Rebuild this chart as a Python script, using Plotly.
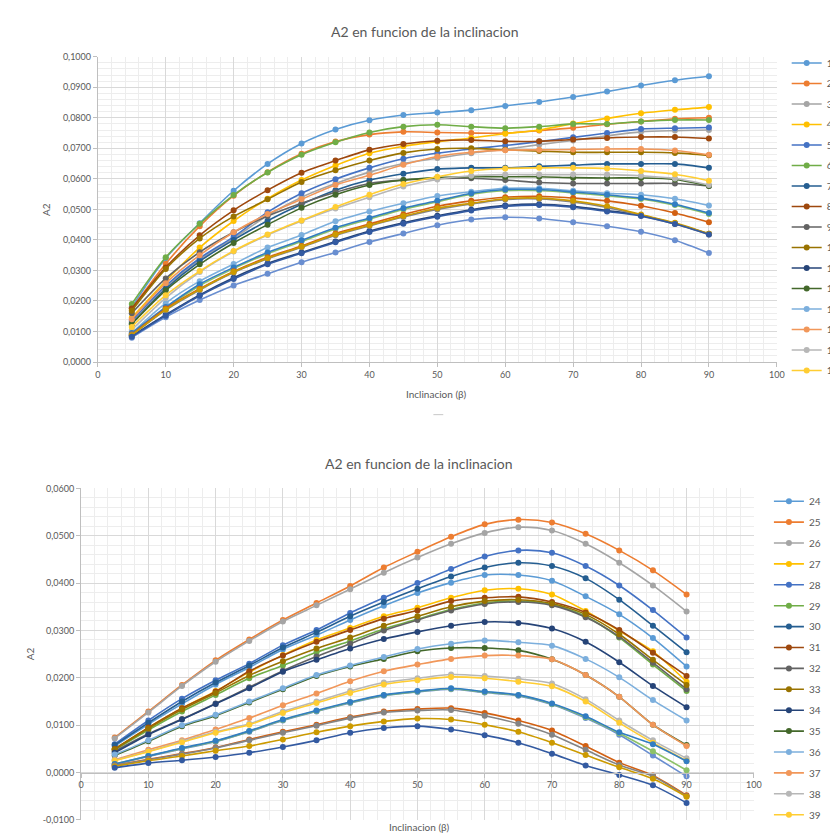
import plotly.graph_objects as go

# ---------------- data ----------------
INCLINACION = [5, 10, 15, 20, 25, 30, 35, 40, 45, 50, 55, 60, 65, 70, 75, 80, 85, 90]

# top chart: series 1..23
S01 = [0.0180, 0.0340, 0.0455, 0.0561, 0.0649, 0.0716, 0.0762, 0.0792, 0.0809, 0.0817, 0.0825, 0.0839, 0.0852, 0.0868, 0.0886, 0.0906, 0.0923, 0.0936]
S02 = [0.0175, 0.0322, 0.0445, 0.0545, 0.0622, 0.0682, 0.0722, 0.0745, 0.0754, 0.0752, 0.0750, 0.0750, 0.0758, 0.0767, 0.0779, 0.0788, 0.0797, 0.0800]
S03 = [0.0130, 0.0245, 0.0335, 0.0405, 0.0480, 0.0540, 0.0585, 0.0622, 0.0650, 0.0668, 0.0684, 0.0697, 0.0712, 0.0726, 0.0741, 0.0754, 0.0758, 0.0760]
S04 = [0.0145, 0.0265, 0.0375, 0.0462, 0.0535, 0.0596, 0.0644, 0.0684, 0.0707, 0.0722, 0.0734, 0.0748, 0.0760, 0.0781, 0.0798, 0.0815, 0.0826, 0.0835]
S05 = [0.0135, 0.0250, 0.0340, 0.0410, 0.0491, 0.0553, 0.0599, 0.0636, 0.0666, 0.0684, 0.0698, 0.0709, 0.0722, 0.0736, 0.0750, 0.0763, 0.0766, 0.0768]
S06 = [0.0190, 0.0343, 0.0453, 0.0547, 0.0621, 0.0679, 0.0720, 0.0752, 0.0771, 0.0777, 0.0771, 0.0766, 0.0771, 0.0780, 0.0780, 0.0788, 0.0793, 0.0793]
S07 = [0.0125, 0.0240, 0.0330, 0.0400, 0.0463, 0.0517, 0.0563, 0.0596, 0.0617, 0.0632, 0.0636, 0.0636, 0.0641, 0.0645, 0.0649, 0.0649, 0.0649, 0.0636]
S08 = [0.0175, 0.0310, 0.0415, 0.0497, 0.0563, 0.0620, 0.0660, 0.0695, 0.0714, 0.0725, 0.0727, 0.0723, 0.0723, 0.0729, 0.0734, 0.0737, 0.0737, 0.0732]
S09 = [0.0160, 0.0274, 0.0360, 0.0425, 0.0478, 0.0520, 0.0556, 0.0585, 0.0596, 0.0601, 0.0602, 0.0596, 0.0588, 0.0585, 0.0585, 0.0585, 0.0585, 0.0577]
S10 = [0.0168, 0.0305, 0.0405, 0.0477, 0.0533, 0.0590, 0.0628, 0.0660, 0.0685, 0.0698, 0.0700, 0.0695, 0.0691, 0.0687, 0.0687, 0.0687, 0.0685, 0.0677]
S11 = [0.0085, 0.0155, 0.0220, 0.0276, 0.0323, 0.0359, 0.0395, 0.0429, 0.0456, 0.0479, 0.0499, 0.0513, 0.0517, 0.0510, 0.0496, 0.0481, 0.0454, 0.0420]
S12 = [0.0125, 0.0235, 0.0320, 0.0390, 0.0450, 0.0505, 0.0548, 0.0580, 0.0596, 0.0604, 0.0607, 0.0607, 0.0607, 0.0604, 0.0603, 0.0603, 0.0598, 0.0577]
S13 = [0.0095, 0.0193, 0.0265, 0.0321, 0.0375, 0.0416, 0.0461, 0.0493, 0.0520, 0.0544, 0.0558, 0.0569, 0.0569, 0.0561, 0.0553, 0.0548, 0.0535, 0.0513]
S14 = [0.0140, 0.0258, 0.0350, 0.0425, 0.0485, 0.0533, 0.0580, 0.0612, 0.0646, 0.0673, 0.0687, 0.0694, 0.0695, 0.0696, 0.0698, 0.0698, 0.0693, 0.0679]
S15 = [0.0105, 0.0210, 0.0295, 0.0362, 0.0416, 0.0462, 0.0503, 0.0540, 0.0575, 0.0598, 0.0610, 0.0614, 0.0614, 0.0614, 0.0614, 0.0610, 0.0601, 0.0580]
S16 = [0.0115, 0.0219, 0.0298, 0.0364, 0.0418, 0.0464, 0.0508, 0.0548, 0.0583, 0.0607, 0.0626, 0.0634, 0.0636, 0.0636, 0.0634, 0.0626, 0.0615, 0.0594]
S17 = [0.0080, 0.0147, 0.0203, 0.0251, 0.0289, 0.0327, 0.0359, 0.0393, 0.0421, 0.0448, 0.0467, 0.0474, 0.0470, 0.0458, 0.0445, 0.0427, 0.0399, 0.0357]
S18 = [0.0092, 0.0177, 0.0250, 0.0306, 0.0355, 0.0395, 0.0436, 0.0468, 0.0500, 0.0525, 0.0550, 0.0562, 0.0562, 0.0554, 0.0545, 0.0534, 0.0514, 0.0485]
S19 = [0.0095, 0.0180, 0.0255, 0.0310, 0.0359, 0.0399, 0.0440, 0.0472, 0.0504, 0.0528, 0.0553, 0.0565, 0.0565, 0.0557, 0.0548, 0.0537, 0.0517, 0.0488]
S20 = [0.0090, 0.0175, 0.0240, 0.0297, 0.0343, 0.0380, 0.0421, 0.0452, 0.0483, 0.0510, 0.0528, 0.0540, 0.0543, 0.0537, 0.0528, 0.0512, 0.0488, 0.0458]
S21 = [0.0088, 0.0170, 0.0236, 0.0293, 0.0338, 0.0376, 0.0415, 0.0446, 0.0475, 0.0500, 0.0518, 0.0532, 0.0534, 0.0524, 0.0506, 0.0480, 0.0452, 0.0418]
S22 = [0.0088, 0.0172, 0.0238, 0.0295, 0.0340, 0.0378, 0.0418, 0.0448, 0.0478, 0.0504, 0.0520, 0.0535, 0.0537, 0.0528, 0.0510, 0.0483, 0.0456, 0.0420]
S23 = [0.0083, 0.0152, 0.0217, 0.0272, 0.0320, 0.0356, 0.0392, 0.0426, 0.0453, 0.0476, 0.0496, 0.0510, 0.0514, 0.0507, 0.0493, 0.0478, 0.0452, 0.0418]

# bottom chart: series 24..46
S24 = [0.0056, 0.0102, 0.0145, 0.0186, 0.0222, 0.0260, 0.0290, 0.0322, 0.0352, 0.0379, 0.0401, 0.0417, 0.0417, 0.0405, 0.0372, 0.0334, 0.0284, 0.0224]
S25 = [0.0074, 0.0129, 0.0185, 0.0237, 0.0281, 0.0322, 0.0358, 0.0394, 0.0433, 0.0466, 0.0498, 0.0524, 0.0534, 0.0528, 0.0504, 0.0469, 0.0427, 0.0376]
S26 = [0.0072, 0.0127, 0.0183, 0.0234, 0.0278, 0.0319, 0.0353, 0.0387, 0.0422, 0.0454, 0.0483, 0.0506, 0.0518, 0.0511, 0.0483, 0.0443, 0.0395, 0.0340]
S27 = [0.0050, 0.0095, 0.0136, 0.0172, 0.0212, 0.0248, 0.0280, 0.0305, 0.0330, 0.0348, 0.0369, 0.0385, 0.0388, 0.0376, 0.0341, 0.0299, 0.0256, 0.0192]
S28 = [0.0060, 0.0110, 0.0156, 0.0195, 0.0230, 0.0269, 0.0301, 0.0337, 0.0369, 0.0400, 0.0430, 0.0456, 0.0469, 0.0464, 0.0436, 0.0395, 0.0343, 0.0285]
S29 = [0.0048, 0.0090, 0.0129, 0.0164, 0.0199, 0.0226, 0.0254, 0.0278, 0.0303, 0.0324, 0.0344, 0.0358, 0.0362, 0.0355, 0.0330, 0.0285, 0.0228, 0.0172]
S30 = [0.0058, 0.0105, 0.0150, 0.0190, 0.0226, 0.0264, 0.0296, 0.0330, 0.0360, 0.0388, 0.0414, 0.0433, 0.0443, 0.0436, 0.0410, 0.0365, 0.0310, 0.0254]
S31 = [0.0050, 0.0095, 0.0136, 0.0171, 0.0214, 0.0247, 0.0276, 0.0301, 0.0325, 0.0342, 0.0362, 0.0369, 0.0371, 0.0360, 0.0338, 0.0301, 0.0253, 0.0204]
S32 = [0.0045, 0.0082, 0.0113, 0.0146, 0.0180, 0.0215, 0.0245, 0.0272, 0.0300, 0.0322, 0.0342, 0.0356, 0.0360, 0.0353, 0.0328, 0.0287, 0.0232, 0.0176]
S33 = [0.0049, 0.0093, 0.0133, 0.0168, 0.0205, 0.0235, 0.0262, 0.0285, 0.0310, 0.0330, 0.0350, 0.0362, 0.0365, 0.0357, 0.0334, 0.0292, 0.0238, 0.0185]
S34 = [0.0042, 0.0080, 0.0112, 0.0145, 0.0178, 0.0213, 0.0238, 0.0262, 0.0282, 0.0297, 0.0310, 0.0318, 0.0316, 0.0304, 0.0276, 0.0233, 0.0183, 0.0138]
S35 = [0.0036, 0.0066, 0.0098, 0.0120, 0.0148, 0.0176, 0.0204, 0.0224, 0.0240, 0.0256, 0.0263, 0.0263, 0.0258, 0.0239, 0.0206, 0.0160, 0.0101, 0.0058]
S36 = [0.0038, 0.0068, 0.0100, 0.0122, 0.0150, 0.0178, 0.0206, 0.0226, 0.0244, 0.0261, 0.0272, 0.0279, 0.0275, 0.0268, 0.0240, 0.0201, 0.0153, 0.0110]
S37 = [0.0027, 0.0048, 0.0068, 0.0091, 0.0115, 0.0142, 0.0167, 0.0193, 0.0214, 0.0228, 0.0240, 0.0247, 0.0247, 0.0239, 0.0206, 0.0160, 0.0101, 0.0056]
S38 = [0.0026, 0.0045, 0.0066, 0.0086, 0.0103, 0.0129, 0.0150, 0.0172, 0.0190, 0.0199, 0.0207, 0.0204, 0.0198, 0.0188, 0.0155, 0.0110, 0.0068, 0.0030]
S39 = [0.0025, 0.0044, 0.0064, 0.0084, 0.0101, 0.0126, 0.0147, 0.0168, 0.0186, 0.0195, 0.0202, 0.0199, 0.0192, 0.0182, 0.0150, 0.0105, 0.0063, 0.0025]
S40 = [0.0017, 0.0034, 0.0050, 0.0065, 0.0086, 0.0110, 0.0129, 0.0147, 0.0162, 0.0170, 0.0176, 0.0169, 0.0162, 0.0144, 0.0115, 0.0080, 0.0036, -0.0008]
S41 = [0.0018, 0.0035, 0.0051, 0.0066, 0.0087, 0.0111, 0.0130, 0.0148, 0.0163, 0.0171, 0.0177, 0.0170, 0.0163, 0.0145, 0.0117, 0.0083, 0.0045, 0.0005]
S42 = [0.0018, 0.0035, 0.0052, 0.0067, 0.0088, 0.0112, 0.0131, 0.0149, 0.0164, 0.0172, 0.0178, 0.0171, 0.0164, 0.0146, 0.0119, 0.0085, 0.0060, 0.0024]
S43 = [0.0015, 0.0028, 0.0040, 0.0053, 0.0070, 0.0086, 0.0101, 0.0117, 0.0129, 0.0134, 0.0136, 0.0126, 0.0110, 0.0089, 0.0056, 0.0021, -0.0006, -0.0048]
S44 = [0.0015, 0.0027, 0.0039, 0.0052, 0.0068, 0.0084, 0.0099, 0.0115, 0.0127, 0.0131, 0.0132, 0.0120, 0.0103, 0.0080, 0.0048, 0.0016, -0.0008, -0.0050]
S45 = [0.0013, 0.0025, 0.0035, 0.0046, 0.0056, 0.0070, 0.0085, 0.0098, 0.0108, 0.0114, 0.0112, 0.0101, 0.0086, 0.0063, 0.0037, 0.0011, -0.0013, -0.0051]
S46 = [0.0010, 0.0020, 0.0026, 0.0033, 0.0042, 0.0054, 0.0068, 0.0084, 0.0094, 0.0098, 0.0091, 0.0079, 0.0063, 0.0040, 0.0015, -0.0005, -0.0027, -0.0064]

TOP_NAMES = ["1", "2", "3", "4", "5", "6", "7", "8", "9", "10", "11", "12",
             "13", "14", "15", "16", "17", "18", "19", "20", "21", "22", "23"]
BOTTOM_NAMES = ["24", "25", "26", "27", "28", "29", "30", "31", "32", "33", "34", "35",
                "36", "37", "38", "39", "40", "41", "42", "43", "44", "45", "46"]

TOP_TICKS_Y = [0.0, 0.01, 0.02, 0.03, 0.04, 0.05, 0.06, 0.07, 0.08, 0.09, 0.10]
TOP_TICKTEXT_Y = ["0,0000", "0,0100", "0,0200", "0,0300", "0,0400", "0,0500",
                  "0,0600", "0,0700", "0,0800", "0,0900", "0,1000"]
BOT_TICKS_Y = [-0.01, 0.0, 0.01, 0.02, 0.03, 0.04, 0.05, 0.06]
BOT_TICKTEXT_Y = ["-0,0100", "0,0000", "0,0100", "0,0200", "0,0300", "0,0400", "0,0500", "0,0600"]

TITLE = "A2 en funcion de la inclinacion"
XTITLE = "Inclinacion (β)"
YTITLE = "A2"

# ---------------- style ----------------
PALETTE = ["#5B9BD5", "#ED7D31", "#A5A5A5", "#FFC000", "#4472C4", "#70AD47",
           "#255E91", "#9E480E", "#636363", "#997300", "#264478", "#43682B",
           "#7CAFDD", "#F1975A", "#B7B7B7", "#FFCD33", "#698ED0", "#8CC168",
           "#327DC2", "#D26012", "#848484", "#CC9A00", "#335AA1"]

TOP_SERIES = [S01, S02, S03, S04, S05, S06, S07, S08, S09, S10, S11, S12,
              S13, S14, S15, S16, S17, S18, S19, S20, S21, S22, S23]
BOTTOM_SERIES = [S24, S25, S26, S27, S28, S29, S30, S31, S32, S33, S34, S35,
                 S36, S37, S38, S39, S40, S41, S42, S43, S44, S45, S46]

W, H = 838, 835
FONT = "Lato, 'Open Sans', sans-serif"
TXT = "#595959"
GRID = "#D9D9D9"
MINOR = "#EDEDED"
AXL = "#BFBFBF"


def px(xp):
    return xp / W


def py(yp):
    return 1 - yp / H


fig = go.Figure()

for i, ys in enumerate(TOP_SERIES):
    c = PALETTE[i % len(PALETTE)]
    fig.add_trace(go.Scatter(
        x=INCLINACION, y=ys, name=TOP_NAMES[i], mode="lines+markers",
        line=dict(color=c, width=1.6, shape="spline", smoothing=0.8),
        marker=dict(color=c, size=6),
        xaxis="x", yaxis="y", legend="legend", legendgroup="t%d" % i,
        showlegend=i < 16))

for i, ys in enumerate(BOTTOM_SERIES):
    c = PALETTE[i % len(PALETTE)]
    fig.add_trace(go.Scatter(
        x=INCLINACION, y=ys, name=BOTTOM_NAMES[i], mode="lines+markers",
        line=dict(color=c, width=1.6, shape="spline", smoothing=0.8),
        marker=dict(color=c, size=6),
        xaxis="x2", yaxis="y2", legend="legend2", legendgroup="b%d" % i,
        showlegend=i < 16))

axis_common = dict(
    showgrid=True, gridcolor=GRID, gridwidth=1, zeroline=False,
    showline=True, linecolor=AXL, linewidth=1,
    ticks="outside", ticklen=4, tickcolor=AXL,
    tickfont=dict(family=FONT, size=9, color=TXT),
)

fig.update_layout(
    width=W, height=H, margin=dict(l=0, r=0, t=0, b=0),
    paper_bgcolor="white", plot_bgcolor="white",
    font=dict(family=FONT, color=TXT),
    separators=", ",
    xaxis=dict(domain=[px(88), px(776)], range=[0, 100], tick0=0, dtick=10,
               anchor="y",
               minor=dict(dtick=2, showgrid=True, gridcolor=MINOR, ticks=""),
               **axis_common),
    yaxis=dict(domain=[py(352.7), py(43.3)], range=[0, 0.1],
               tickvals=TOP_TICKS_Y, ticktext=TOP_TICKTEXT_Y, anchor="x",
               minor=dict(dtick=0.002, showgrid=True, gridcolor=MINOR, ticks=""),
               **axis_common),
    xaxis2=dict(domain=[px(71), px(752.7)], range=[0, 100], tick0=0, dtick=10,
                anchor="free", position=py(768.7),
                minor=dict(dtick=2, showgrid=True, gridcolor=MINOR, ticks=""),
                **axis_common),
    yaxis2=dict(domain=[py(816.7), py(480.7)], range=[-0.01, 0.06],
                tickvals=BOT_TICKS_Y, ticktext=BOT_TICKTEXT_Y, anchor="x2",
                minor=dict(dtick=0.002, showgrid=True, gridcolor=MINOR, ticks=""),
                **axis_common),
    legend=dict(x=px(786), y=py(35), xanchor="left", yanchor="top",
                font=dict(family=FONT, size=10, color=TXT),
                tracegroupgap=1.5, bgcolor="rgba(0,0,0,0)", itemwidth=30),
    legend2=dict(x=px(768), y=py(479), xanchor="left", yanchor="top",
                 font=dict(family=FONT, size=10, color=TXT),
                 tracegroupgap=1.9, bgcolor="rgba(0,0,0,0)", itemwidth=30),
    showlegend=True,
)

ann = [
    dict(x=px(420), y=py(18), text=TITLE, font=dict(size=14)),
    dict(x=px(413), y=py(456), text=TITLE, font=dict(size=14)),
    dict(x=px(431), y=py(385), text=XTITLE, font=dict(size=10)),
    dict(x=px(414), y=py(824), text=XTITLE, font=dict(size=10)),
    dict(x=px(36), y=py(198), text=YTITLE, font=dict(size=10), textangle=-90),
    dict(x=px(20), y=py(648), text=YTITLE, font=dict(size=10), textangle=-90),
]
for a in ann:
    a.update(xref="paper", yref="paper", showarrow=False,
             xanchor="center", yanchor="middle")
    a["font"].update(family=FONT, color=TXT)
fig.update_layout(annotations=ann)

fig.add_shape(type="line", xref="paper", yref="paper",
              x0=px(428), x1=px(438), y0=py(406), y1=py(406),
              line=dict(color="#C8C8C8", width=1))

fig.write_html("out.html")
